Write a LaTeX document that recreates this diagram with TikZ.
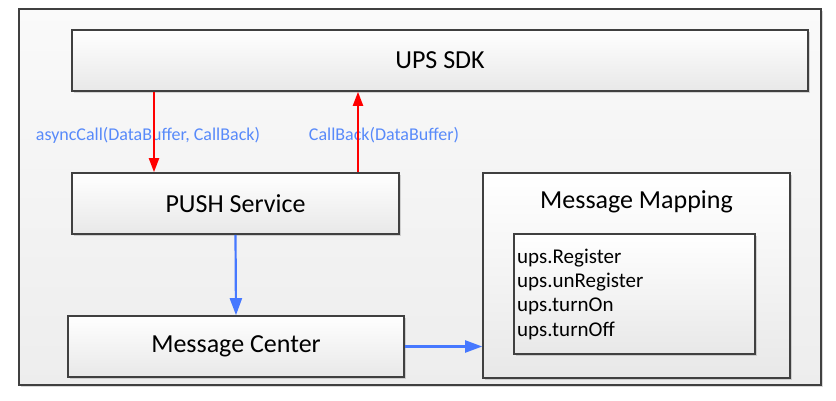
\documentclass[tikz,border=0pt]{standalone}
\usepackage{fontspec}
\setmainfont{Carlito}
\usetikzlibrary{arrows.meta,shadows}
\definecolor{callred}{RGB}{255,0,0}
\definecolor{flowblue}{RGB}{70,120,255}
\definecolor{labelblue}{RGB}{88,138,250}
\definecolor{edgegray}{RGB}{64,64,64}
\tikzset{
  box/.style={draw=edgegray, line width=1.6pt, top color=white, bottom color=black!9,
    drop shadow={shadow xshift=1.5pt, shadow yshift=-1.5pt, opacity=.3},
    inner sep=0pt, font=\fontsize{26}{30}\selectfont},
  frame/.style={draw=edgegray, line width=1.6pt, top color=black!2, bottom color=black!7,
    drop shadow={shadow xshift=1.5pt, shadow yshift=-1.5pt, opacity=.3}, inner sep=0pt},
  boxtitle/.style={anchor=base, inner sep=0pt, font=\fontsize{26}{30}\selectfont},
  calllabel/.style={text=labelblue, anchor=base, inner sep=0pt, font=\fontsize{18}{22}\selectfont},
  listitem/.style={anchor=base west, inner sep=0pt, font=\fontsize{21}{24}\selectfont},
  callarrow/.style={callred, line width=2pt, -{Triangle[length=14pt, width=10pt]}},
  flowarrow/.style={flowblue, line width=2.2pt, -{Triangle[length=17pt, width=12pt]}}
}
\begin{document}
\begin{tikzpicture}[x=1pt, y=-1pt]
\useasboundingbox (0,0) rectangle (836,400);
\node[frame, minimum width=802pt, minimum height=376pt] (system) at (420,197) {};
\node[box, minimum width=736pt, minimum height=61pt] (sdk) at (440,60.5) {UPS SDK};
\node[box, minimum width=327pt, minimum height=61pt] (push) at (235.5,203.5) {PUSH Service};
\node[box, minimum width=336pt, minimum height=61pt] (center) at (236,346.5) {Message Center};
\node[box, minimum width=307pt, minimum height=205pt] (mapping) at (636.5,275.5) {};
\node[boxtitle] (mappingtitle) at (636.5,208) {Message Mapping};
\node[box, minimum width=241pt, minimum height=120pt] (oplist) at (634.5,294) {};
\foreach \op [count=\i] in {Register,unRegister,turnOn,turnOff}{
\node[listitem] (op\i) at (517,239.3+24.2*\i) {ups.\op};
}
% calls between sdk and push service
\coordinate (callx) at (154,0);
\coordinate (backx) at (358,0);
\node[calllabel] (calltext) at (148,140) {asyncCall(DataBuffer, CallBack)};
\node[calllabel] (backtext) at (384,140) {CallBack(DataBuffer)};
\draw[callarrow] (sdk.south -| callx) -- (push.north -| callx);
\draw[callarrow] (push.north -| backx) -- (sdk.south -| backx);
% message flow
\draw[flowarrow] (push.south) -- (center.north);
\draw[flowarrow] (center.east) -- (center.east -| mapping.west);
\end{tikzpicture}
\end{document}
